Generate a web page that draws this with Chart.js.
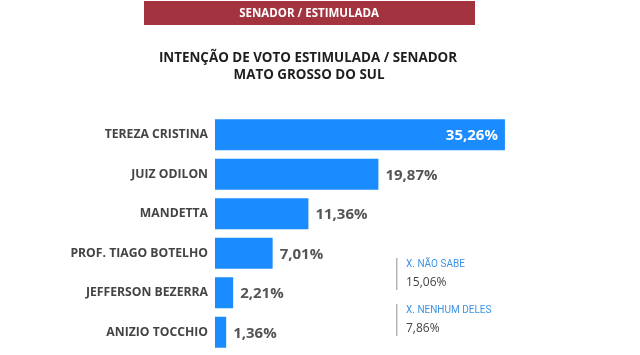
<!DOCTYPE html>
<html>
<head>
<meta charset="utf-8">
<script src="https://cdn.jsdelivr.net/npm/chart.js@4"></script>
<style>
html,body{margin:0;padding:0;background:#fff;}
#wrap{position:relative;width:640px;height:355px;}
</style>
</head>
<body>
<div id="wrap"><canvas id="c" width="640" height="355"></canvas></div>
<script>
const categories = ["TEREZA CRISTINA","JUIZ ODILON","MANDETTA","PROF. TIAGO BOTELHO","JEFFERSON BEZERRA","ANIZIO TOCCHIO"];
const values = [35.26, 19.87, 11.36, 7.01, 2.21, 1.36];
const headerText = "SENADOR / ESTIMULADA";
const titleLines = ["INTENÇÃO DE VOTO ESTIMULADA / SENADOR", "MATO GROSSO DO SUL"];
const noteLabels = ["X. NÃO SABE", "X. NENHUM DELES"];
const noteValues = ["15,06%", "7,86%"];

const fmt = v => v.toFixed(2).replace('.', ',') + '%';

const decor = {
  id: 'decor',
  afterDraw(chart) {
    const ctx = chart.ctx;
    ctx.save();
    // header band
    ctx.fillStyle = '#A3333F';
    ctx.fillRect(144, 1, 331, 24);
    ctx.fillStyle = '#ffffff';
    ctx.font = 'bold 11.5px "Open Sans"';
    ctx.textAlign = 'center';
    ctx.textBaseline = 'middle';
    ctx.fillText(headerText, 309, 14);
    // title
    ctx.fillStyle = '#1e1e1e';
    ctx.font = 'bold 13.4px "Open Sans"';
    ctx.fillText(titleLines[0], 308, 58);
    ctx.fillText(titleLines[1], 309, 75);
    // value labels
    const meta = chart.getDatasetMeta(0);
    ctx.font = 'bold 15px "Open Sans"';
    meta.data.forEach((bar, i) => {
      const txt = fmt(values[i]);
      if (i === 0) {
        ctx.fillStyle = '#ffffff';
        ctx.textAlign = 'right';
        ctx.fillText(txt, bar.x - 7, bar.y + 1);
      } else {
        ctx.fillStyle = '#555555';
        ctx.textAlign = 'left';
        ctx.fillText(txt, bar.x + 7, bar.y + 1);
      }
    });
    // side notes
    const tops = [258, 304];
    tops.forEach((t, i) => {
      ctx.fillStyle = '#b5b5b5';
      ctx.fillRect(396, t, 1.5, 32);
      ctx.textAlign = 'left';
      ctx.fillStyle = '#3b93e6';
      ctx.font = '10px Roboto';
      ctx.fillText(noteLabels[i], 406, t + 6);
      ctx.fillStyle = '#444444';
      ctx.font = '12px "Open Sans"';
      ctx.fillText(noteValues[i], 406, t + 25);
    });
    ctx.restore();
  }
};

new Chart(document.getElementById('c'), {
  type: 'bar',
  data: {
    labels: categories,
    datasets: [{
      data: values,
      backgroundColor: '#1A8CFF',
      borderWidth: 0,
      barPercentage: 0.785,
      categoryPercentage: 1
    }]
  },
  options: {
    indexAxis: 'y',
    responsive: false,
    animation: false,
    devicePixelRatio: 1,
    layout: { padding: { top: 115, bottom: 3, left: 0, right: 55 } },
    plugins: { legend: { display: false }, tooltip: { enabled: false }, title: { display: false } },
    scales: {
      x: { display: false, min: 0, max: 45 },
      y: {
        grid: { display: false, drawTicks: false },
        border: { display: false },
        ticks: {
          color: '#444444',
          font: { family: '"Open Sans"', weight: 'bold', size: 12.2 },
          padding: 7
        },
        afterFit(scale) { scale.width = 215; scale.paddingTop = 0; scale.paddingBottom = 0; }
      }
    }
  },
  plugins: [decor]
});
</script>
</body>
</html>
